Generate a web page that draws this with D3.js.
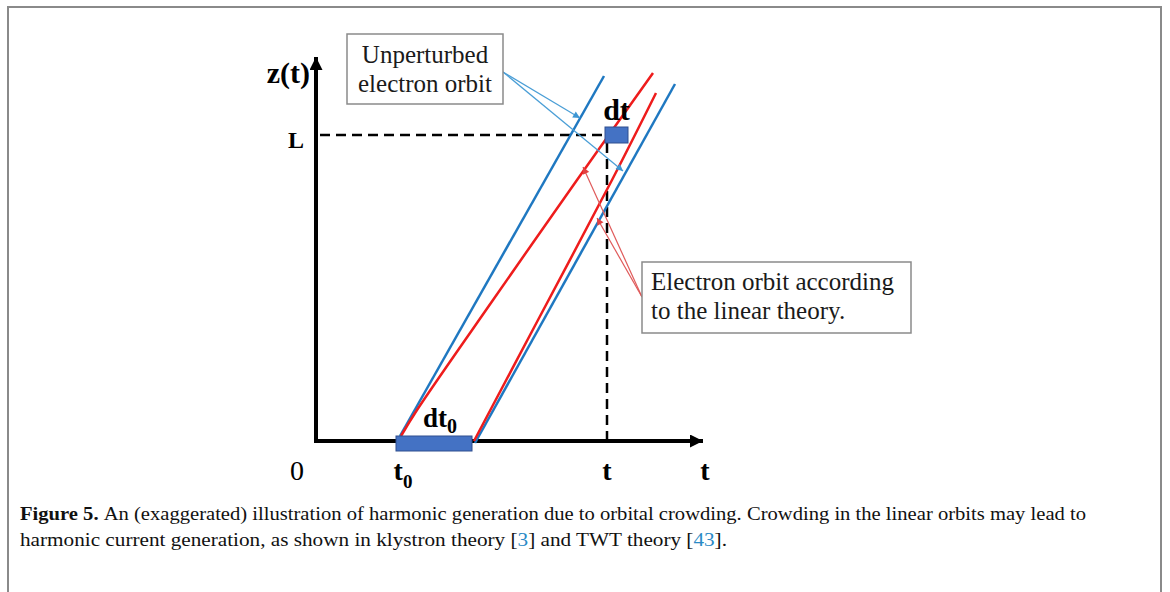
<!DOCTYPE html>
<html>
<head>
<meta charset="utf-8">
<script src="https://cdn.jsdelivr.net/npm/d3@7"></script>
<style>
  body { margin: 0; background: #fff; }
  svg { display: block; }
  text { font-family: "Liberation Serif", "Times New Roman", serif; }
</style>
</head>
<body>
<div id="chart"></div>
<script>
// orbits in (t, z) units
const unperturbedOrbits = [
  [[21, 1.25], [72, 91.25]],
  [[39.75, -0.5], [89.75, 89.25]]
];
const linearOrbits = [
  [[21.25, 1.25], [25.25, 7.75], [44.25, 35.25], [65.25, 65.25], [84.25, 92]],
  [[39.5, 0], [55.5, 30.25], [74, 65.25], [85, 87]]
];
const dt0Span = [20, 39];
const dtSpan = [72.25, 78];
const levelL = 76.5;
const timeT = 72.75;
const tickLabels = [
  { t: -4.75, main: "0", sub: "", bold: false },
  { t: 21.75, main: "t", sub: "0", bold: true },
  { t: 72.75, main: "t", sub: "", bold: true },
  { t: 97.25, main: "t", sub: "", bold: true }
];
const blueNotes = [[[46.75, 92.25], [66, 80.75]], [[46.75, 92.25], [76.75, 67.5]]];
const redNotes = [[[81.5, 36], [66.75, 68.5]], [[81.5, 36], [70.25, 55.75]]];

const W = 1170, H = 592;
const x = d3.scaleLinear().domain([0, 100]).range([316, 716]);
const y = d3.scaleLinear().domain([0, 100]).range([441, 41]);

const svg = d3.select("#chart").append("svg")
  .attr("width", W).attr("height", H);

const defs = svg.append("defs");
function marker(id, color, w, h) {
  defs.append("marker")
    .attr("id", id)
    .attr("viewBox", "0 0 10 10")
    .attr("refX", 10).attr("refY", 5)
    .attr("markerUnits", "userSpaceOnUse")
    .attr("markerWidth", w).attr("markerHeight", h)
    .attr("orient", "auto")
    .append("path").attr("d", "M0,0L10,5L0,10Z").attr("fill", color);
}
marker("axisHead", "#000", 17, 13);
marker("blueHead", "#3d96d3", 9, 7);
marker("redHead", "#e24040", 9, 7);

// frame
svg.append("path")
  .attr("d", "M8," + (H + 5) + "V7H1161V" + (H + 5))
  .attr("fill", "none").attr("stroke", "#8a8a8a").attr("stroke-width", 2);

const line = d3.line().x(d => x(d[0])).y(d => y(d[1]));
const curve = d3.line().x(d => x(d[0])).y(d => y(d[1])).curve(d3.curveCatmullRom);

// dashed guides
svg.append("line")
  .attr("x1", x(1)).attr("x2", x(dtSpan[0])).attr("y1", y(levelL)).attr("y2", y(levelL))
  .attr("stroke", "#000").attr("stroke-width", 2.5).attr("stroke-dasharray", "10,6");
svg.append("line")
  .attr("x1", x(timeT)).attr("x2", x(timeT)).attr("y1", y(levelL - 2)).attr("y2", y(0))
  .attr("stroke", "#000").attr("stroke-width", 2.5).attr("stroke-dasharray", "10,6");

// axes
svg.append("line")
  .attr("x1", x(0)).attr("y1", y(-0.5)).attr("x2", x(0)).attr("y2", y(96))
  .attr("stroke", "#000").attr("stroke-width", 4).attr("marker-end", "url(#axisHead)");
svg.append("line")
  .attr("x1", x(-0.5)).attr("y1", y(0)).attr("x2", x(96.75)).attr("y2", y(0))
  .attr("stroke", "#000").attr("stroke-width", 4).attr("marker-end", "url(#axisHead)");

// orbits
svg.selectAll(".blue").data(unperturbedOrbits).join("path")
  .attr("class", "blue")
  .attr("d", line)
  .attr("fill", "none").attr("stroke", "#1f78c1").attr("stroke-width", 2.5);
svg.selectAll(".red").data(linearOrbits).join("path")
  .attr("class", "red")
  .attr("d", curve)
  .attr("fill", "none").attr("stroke", "#ee1c1c").attr("stroke-width", 2.5);

// boxes
svg.append("rect")
  .attr("x", x(dt0Span[0])).attr("y", y(1.25))
  .attr("width", x(dt0Span[1]) - x(dt0Span[0])).attr("height", 15)
  .attr("fill", "#4472c4").attr("stroke", "#2f4f8f").attr("stroke-width", 1);
svg.append("rect")
  .attr("x", x(dtSpan[0])).attr("y", y(levelL) - 8)
  .attr("width", x(dtSpan[1]) - x(dtSpan[0])).attr("height", 16)
  .attr("fill", "#4472c4").attr("stroke", "#2f4f8f").attr("stroke-width", 1);

// annotation arrows
svg.selectAll(".bnote").data(blueNotes).join("path")
  .attr("class", "bnote").attr("d", line)
  .attr("fill", "none").attr("stroke", "#4a9ed6").attr("stroke-width", 1.2)
  .attr("marker-end", "url(#blueHead)");
svg.selectAll(".rnote").data(redNotes).join("path")
  .attr("class", "rnote").attr("d", line)
  .attr("fill", "none").attr("stroke", "#e05a5a").attr("stroke-width", 1.2)
  .attr("marker-end", "url(#redHead)");

// label boxes
function noteBox(x0, y0, w, h, lines, anchor, tx, baselines) {
  svg.append("rect").attr("x", x0).attr("y", y0).attr("width", w).attr("height", h)
    .attr("fill", "#fff").attr("stroke", "#8a8a8a").attr("stroke-width", 1.5);
  lines.forEach((s, i) => {
    svg.append("text").attr("x", tx).attr("y", baselines[i])
      .attr("text-anchor", anchor).attr("font-size", 25).attr("fill", "#1a1a1a")
      .text(s);
  });
}
noteBox(347, 34, 156, 70, ["Unperturbed", "electron orbit"], "middle", 425, [63, 92]);
noteBox(642, 262, 269, 71, ["Electron orbit according", "to the linear theory."], "start", 651, [290, 319]);

// axis labels
svg.append("text").attr("x", x(0) - 6).attr("y", 83)
  .attr("text-anchor", "end").attr("font-size", 30).attr("font-weight", "bold").text("z(t)");
svg.append("text").attr("x", x(0) - 12).attr("y", y(levelL) + 13)
  .attr("text-anchor", "end").attr("font-size", 24).attr("font-weight", "bold").text("L");
svg.append("text").attr("x", (x(dtSpan[0]) + x(dtSpan[1])) / 2).attr("y", 120)
  .attr("text-anchor", "middle").attr("font-size", 30).attr("font-weight", "bold").text("dt");
const d0 = svg.append("text").attr("x", 423).attr("y", 427)
  .attr("font-size", 27).attr("font-weight", "bold");
d0.append("tspan").text("dt");
d0.append("tspan").attr("font-size", 20).attr("dy", 6).text("0");

tickLabels.forEach(d => {
  const tx = svg.append("text").attr("x", x(d.t)).attr("y", 480)
    .attr("text-anchor", "middle").attr("font-size", 28)
    .attr("font-weight", d.bold ? "bold" : "normal");
  tx.append("tspan").text(d.main);
  if (d.sub) tx.append("tspan").attr("font-size", 19).attr("dy", 8).text(d.sub);
});

// caption
const c1 = svg.append("text").attr("x", 20).attr("y", 520).attr("font-size", 19)
  .attr("fill", "#111").attr("textLength", 1066).attr("lengthAdjust", "spacingAndGlyphs");
c1.append("tspan").attr("font-weight", "bold").text("Figure 5. ");
c1.append("tspan").text("An (exaggerated) illustration of harmonic generation due to orbital crowding. Crowding in the linear orbits may lead to");
const c2 = svg.append("text").attr("x", 20).attr("y", 546).attr("font-size", 19)
  .attr("fill", "#111").attr("textLength", 707).attr("lengthAdjust", "spacingAndGlyphs");
c2.append("tspan").text("harmonic current generation, as shown in klystron theory [");
c2.append("tspan").attr("fill", "#2a8ac6").text("3");
c2.append("tspan").text("] and TWT theory [");
c2.append("tspan").attr("fill", "#2a8ac6").text("43");
c2.append("tspan").text("].");
</script>
</body>
</html>
